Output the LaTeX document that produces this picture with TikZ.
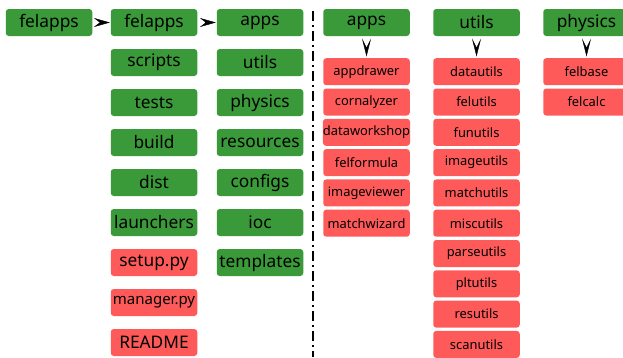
\documentclass[tikz,border=0pt]{standalone}
\usepackage{fontspec}
\setmainfont{Noto Sans}
\usetikzlibrary{arrows.meta}

\definecolor{dirgreen}{RGB}{58,154,58}
\definecolor{filered}{RGB}{255,90,90}

\tikzset{
    dirbox/.style={fill=dirgreen, rounded corners=3pt, minimum width=86.5pt, minimum height=27pt, inner sep=0pt, font=\fontsize{17.3}{17}\selectfont},
    filebox/.style={fill=filered, rounded corners=3pt, minimum width=86.5pt, minimum height=27pt, inner sep=0pt, font=\fontsize{17.3}{17}\selectfont},
    modbox/.style={filebox, font=\fontsize{12.9}{13}\selectfont},
    % only the heads are seen, the shaft hides in the notch
    into/.style={-{Stealth[length=16pt, width=9pt, inset=6pt]}, shorten >=0.7pt, shorten <=8pt},
    godown/.style={-{Stealth[length=18pt, width=9pt, inset=9pt]}, shorten >=1.5pt, shorten <=11pt}
}

\begin{document}
\begin{tikzpicture}[x=1pt, y=-1pt]
        \useasboundingbox (0,0) rectangle (623,357);
        % repository root and its first level
        \node[dirbox] (root) at (49,22.5) {felapps};
        \node[dirbox] (pkg) at (154,22.5) {felapps};
        \node[dirbox] (scripts) at (154,62.5) {scripts};
        \node[dirbox] (tests) at (154,102.5) {tests};
        \node[dirbox] (build) at (154,142.5) {build};
        \node[dirbox] (dist) at (154,182.5) {dist};
        \node[dirbox] (launchers) at (154,222.5) {launchers};
        \node[filebox] (setup) at (154,262.5) {setup.py};
        \node[filebox, font=\fontsize{15}{15}\selectfont] (manager) at (154,302.5) {manager.py};
        \node[filebox] (readme) at (154,342.5) {README};
        % subpackages
        \node[dirbox] (apps) at (260,22.5) {apps};
        \node[dirbox] (utils) at (260,62.5) {utils};
        \node[dirbox] (physics) at (260,102.5) {physics};
        \node[dirbox] (resources) at (260,142.5) {resources};
        \node[dirbox] (configs) at (260,182.5) {configs};
        \node[dirbox] (ioc) at (260,222.5) {ioc};
        \node[dirbox] (templates) at (260,262.5) {templates};
        \draw[into] (root) -- (pkg);
        \draw[into] (pkg) -- (apps);

        % divider
        \coordinate (top) at (313,11);
        \coordinate (bottom) at (313,357);
        \draw[line width=2pt, dash pattern=on 10pt off 4pt on 2pt off 4pt] (top) -- (bottom);

        % apps modules
        \node[dirbox] (appshead) at (366.5,22.5) {apps};
        \node[modbox] (appdrawer) at (366.5,71.7) {appdrawer};
        \node[modbox] (cornalyzer) at (366.5,102) {cornalyzer};
        \node[modbox] (dataworkshop) at (366.5,132.3) {dataworkshop};
        \node[modbox] (felformula) at (366.5,162.6) {felformula};
        \node[modbox] (imageviewer) at (366.5,192.9) {imageviewer};
        \node[modbox] (matchwizard) at (366.5,223.2) {matchwizard};
        \draw[godown] (appshead) -- (appdrawer);
        % utils modules
        \node[dirbox] (utilshead) at (476.5,22.5) {utils};
        \node[modbox] (datautils) at (476.5,71.7) {datautils};
        \node[modbox] (felutils) at (476.5,102) {felutils};
        \node[modbox] (funutils) at (476.5,132.3) {funutils};
        \node[modbox] (imageutils) at (476.5,162.6) {imageutils};
        \node[modbox] (matchutils) at (476.5,192.9) {matchutils};
        \node[modbox] (miscutils) at (476.5,223.2) {miscutils};
        \node[modbox] (parseutils) at (476.5,253.5) {parseutils};
        \node[modbox] (pltutils) at (476.5,283.8) {pltutils};
        \node[modbox] (resutils) at (476.5,314.1) {resutils};
        \node[modbox] (scanutils) at (476.5,344.4) {scanutils};
        \draw[godown] (utilshead) -- (datautils);
        % physics modules
        \node[dirbox] (physhead) at (586.5,22.5) {physics};
        \node[modbox] (felbase) at (586.5,71.7) {felbase};
        \node[modbox] (felcalc) at (586.5,102) {felcalc};
        \draw[godown] (physhead) -- (felbase);
\end{tikzpicture}
\end{document}
